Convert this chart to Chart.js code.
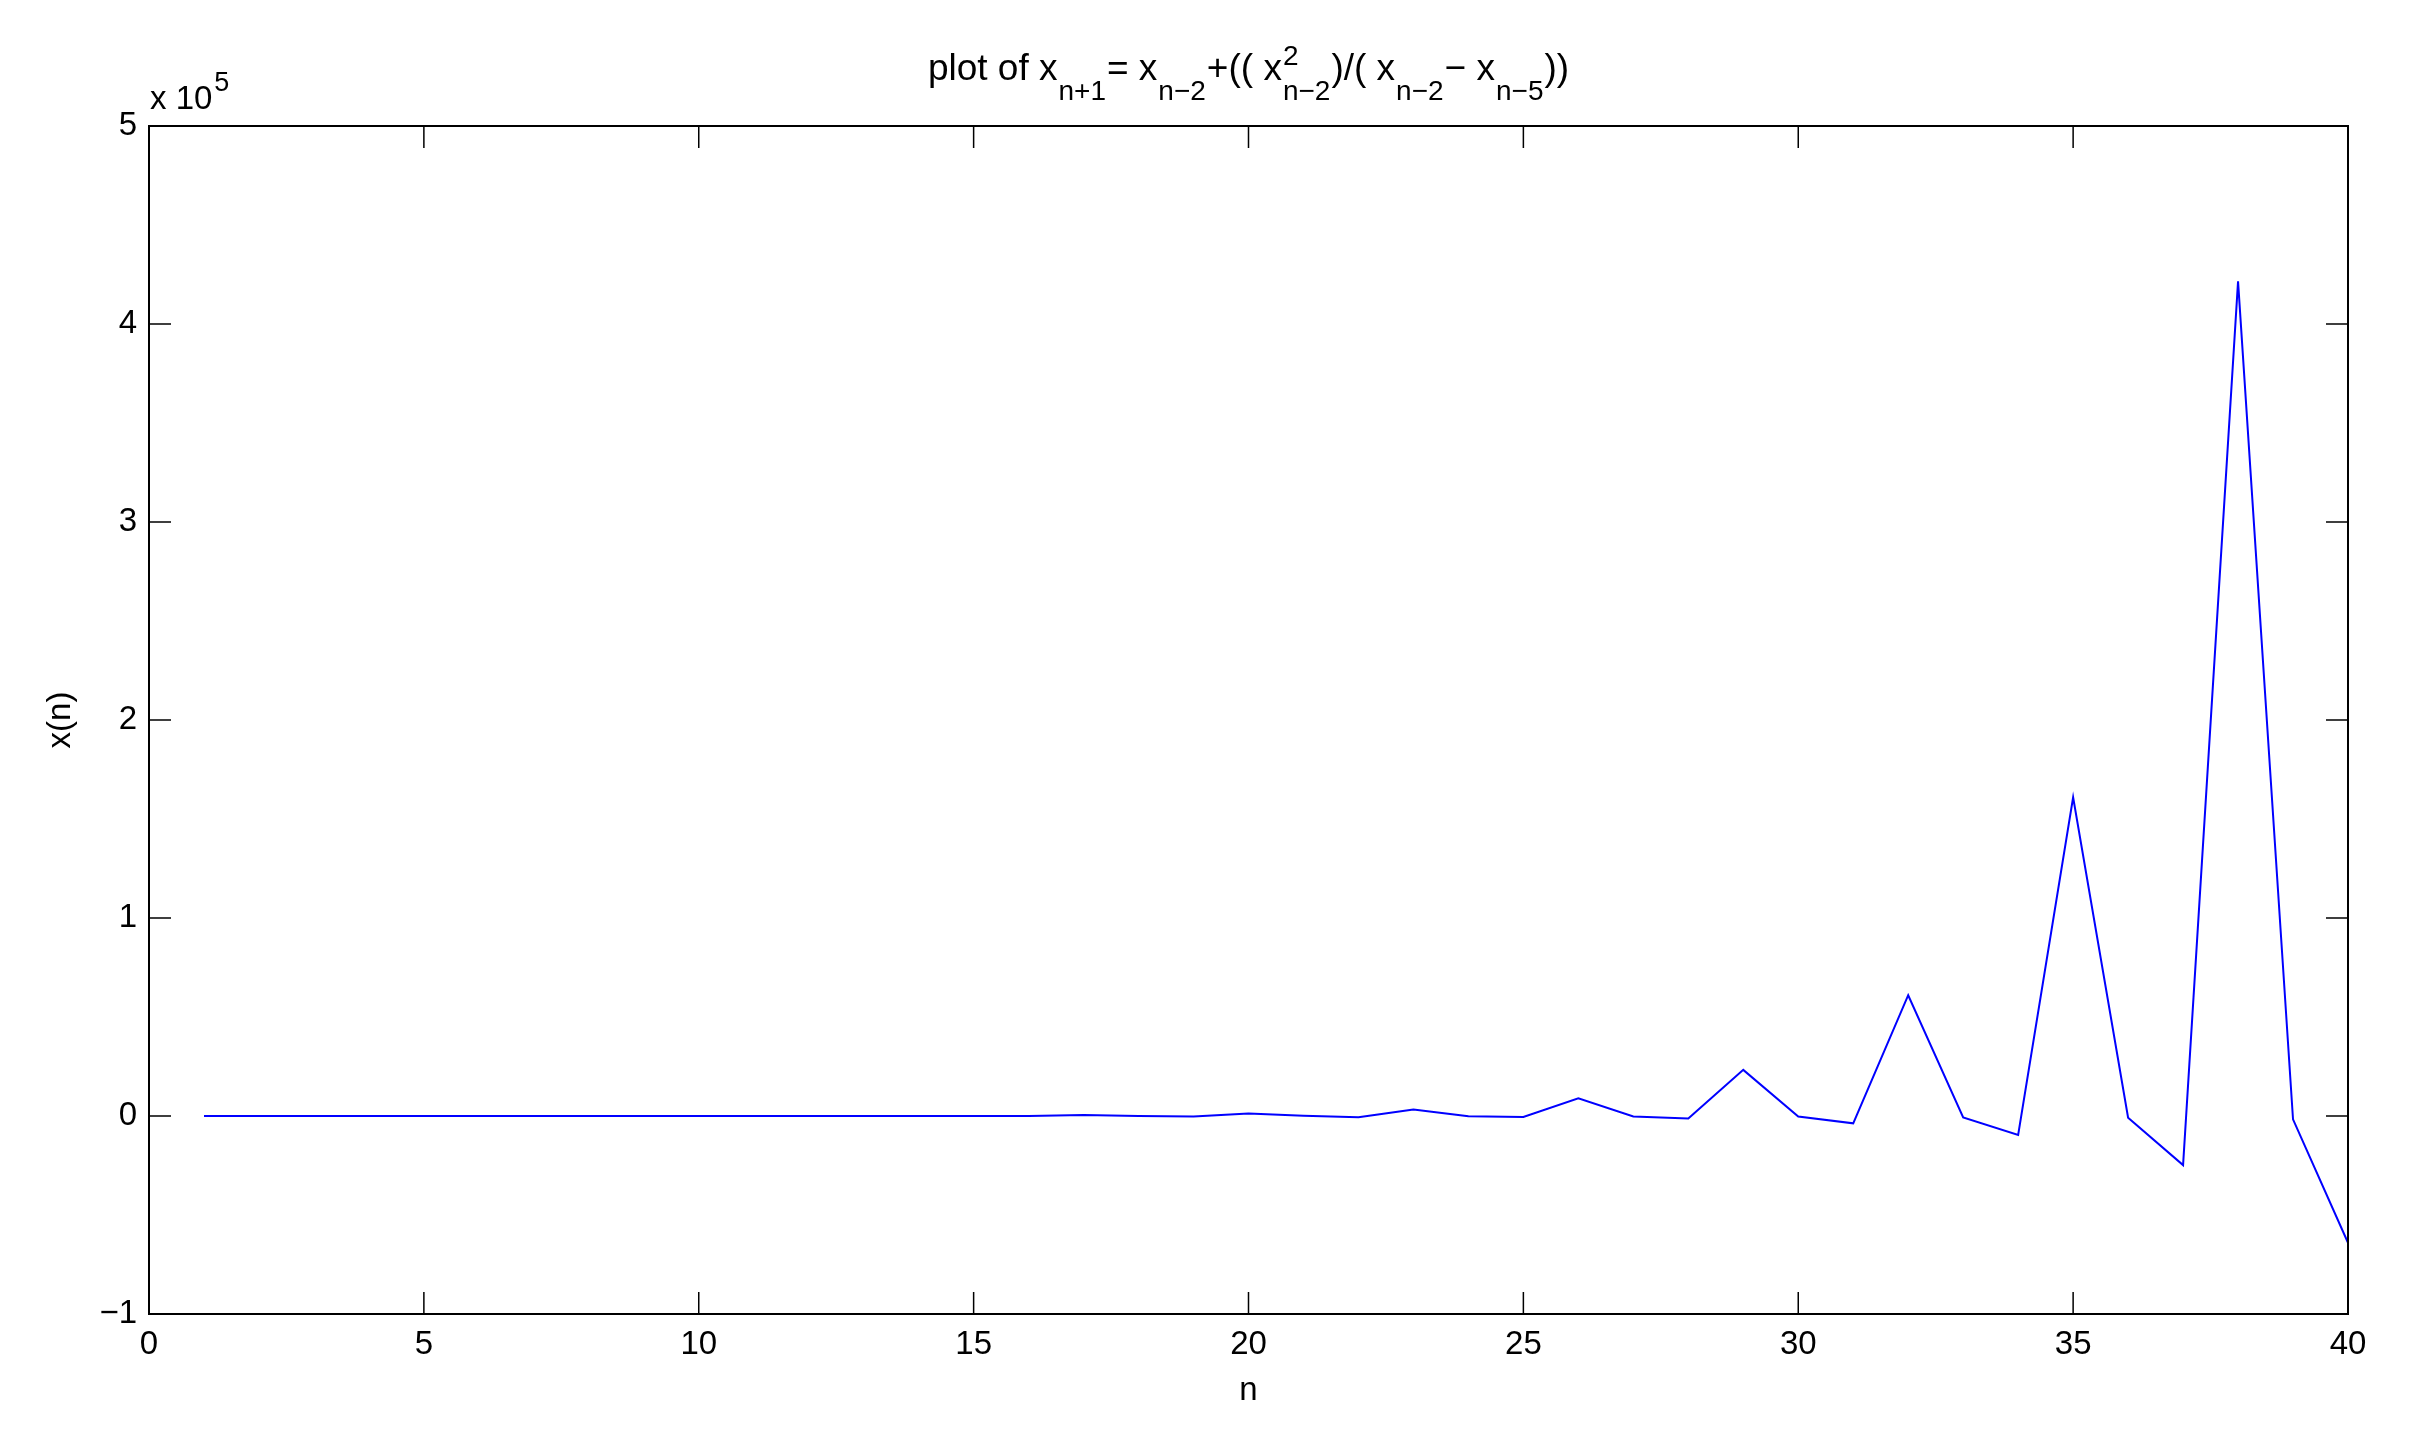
<!DOCTYPE html>
<html>
<head>
<meta charset="utf-8">
<script src="https://cdn.jsdelivr.net/npm/chart.js@4.4.1/dist/chart.umd.min.js"></script>
<style>
  body { margin: 0; background: #fff; }
  canvas { display: block; }
</style>
</head>
<body>
<canvas id="myChart" width="2409" height="1441"></canvas>
<script>
// data block
const nValues = [1, 2, 3, 4, 5, 6, 7, 8, 9, 10,
                 11, 12, 13, 14, 15, 16, 17, 18, 19, 20,
                 21, 22, 23, 24, 25, 26, 27, 28, 29, 30,
                 31, 32, 33, 34, 35, 36, 37, 38, 39, 40];
const xValues = [1, 2, 3, 5, -2, 4, 8, -5, 6, 15,
                 -12, 10, 35, -30, 20, -60, 500, 40, -200, 1200,
                 100, -600, 3300, -150, -500, 8900, -250, -1300, 23300, -300,
                 -3700, 61000, -700, -9600, 161000, -900, -24800, 421500, -1700, -64000];
const xTicks = [0, 5, 10, 15, 20, 25, 30, 35, 40];
const yTicks = [-1, 0, 1, 2, 3, 4, 5]; // in units of 10^5
const yExponent = 5;

const fontFamily = '"Liberation Sans", Arial, Helvetica, sans-serif';
const labelSize = 33;
Chart.defaults.font.family = fontFamily;
Chart.defaults.color = '#000';

// title pieces: main text, subscripts, superscripts
const titleParts = [
  { t: 'plot of x' }, { sub: 'n+1' }, { t: '= x' }, { sub: 'n\u22122' },
  { t: '+(( x' }, { sup: '2', sub: 'n\u22122' }, { t: ')/( x' }, { sub: 'n\u22122' },
  { t: '\u2212 x' }, { sub: 'n\u22125' }, { t: '))' }
];

// frame + inward ticks + exponent + title
const matlabFrame = {
  id: 'matlabFrame',
  afterDatasetsDraw(chart) {
    const {ctx, chartArea: {left, right, top, bottom}, scales: {x, y}} = chart;
    ctx.save();
    ctx.strokeStyle = '#000';
    ctx.lineWidth = 1.5;
    const tl = 22;
    x.ticks.forEach(t => {
      const px = x.getPixelForValue(t.value);
      ctx.beginPath();
      ctx.moveTo(px, bottom); ctx.lineTo(px, bottom - tl);
      ctx.moveTo(px, top); ctx.lineTo(px, top + tl);
      ctx.stroke();
    });
    y.ticks.forEach(t => {
      const py = y.getPixelForValue(t.value);
      ctx.beginPath();
      ctx.moveTo(left, py); ctx.lineTo(left + tl, py);
      ctx.moveTo(right, py); ctx.lineTo(right - tl, py);
      ctx.stroke();
    });
    ctx.lineWidth = 2;
    ctx.strokeRect(left, top, right - left, bottom - top);

    // x 10^5
    ctx.fillStyle = '#000';
    ctx.textBaseline = 'alphabetic';
    ctx.textAlign = 'left';
    ctx.font = labelSize + 'px ' + fontFamily;
    ctx.fillText('x 10', left + 1, 109);
    const w0 = ctx.measureText('x 10').width;
    ctx.font = '27px ' + fontFamily;
    ctx.fillText(String(yExponent), left + 1 + w0 + 2, 91);

    // title
    const mainFont = '37px ' + fontFamily;
    const smallFont = '28px ' + fontFamily;
    const widths = titleParts.map(p => {
      if (p.t) { ctx.font = mainFont; return ctx.measureText(p.t).width; }
      ctx.font = smallFont;
      return Math.max(p.sub ? ctx.measureText(p.sub).width : 0, p.sup ? ctx.measureText(p.sup).width : 0) + 2;
    });
    const total = widths.reduce((a, b) => a + b, 0);
    let cx = (left + right) / 2 - total / 2;
    titleParts.forEach((p, i) => {
      if (p.t) {
        ctx.font = mainFont;
        ctx.fillText(p.t, cx, 80);
      } else {
        ctx.font = smallFont;
        if (p.sub) ctx.fillText(p.sub, cx + 1, 100);
        if (p.sup) ctx.fillText(p.sup, cx + 1, 65);
      }
      cx += widths[i];
    });
    ctx.restore();
  }
};

const data = {
  datasets: [{
    label: 'x(n)',
    data: nValues.map((n, i) => ({ x: n, y: xValues[i] })),
    borderColor: '#0000ff',
    borderWidth: 2,
    pointRadius: 0,
    tension: 0,
    fill: false
  }]
};

const config = {
  type: 'line',
  data,
  options: {
    responsive: false,
    animation: false,
    layout: { padding: { left: 0, right: 61, top: 126, bottom: 0 } },
    plugins: {
      legend: { display: false },
      tooltip: { enabled: false },
      title: { display: false }
    },
    scales: {
      x: {
        type: 'linear',
        min: 0,
        max: 40,
        afterBuildTicks(scale) { scale.ticks = xTicks.map(v => ({ value: v })); },
        afterFit(scale) { scale.height = 127; },
        grid: { drawOnChartArea: false, drawTicks: false },
        border: { display: false },
        ticks: { padding: 11, font: { size: labelSize }, color: '#000' },
        title: { display: true, text: 'n', font: { size: labelSize }, color: '#000', padding: { top: 0, bottom: 30 } }
      },
      y: {
        type: 'linear',
        min: yTicks[0] * Math.pow(10, yExponent),
        max: yTicks[yTicks.length - 1] * Math.pow(10, yExponent),
        afterBuildTicks(scale) { scale.ticks = yTicks.map(v => ({ value: v * Math.pow(10, yExponent) })); },
        afterFit(scale) { scale.width = 149; },
        grid: { drawOnChartArea: false, drawTicks: false },
        border: { display: false },
        ticks: {
          padding: 12,
          font: { size: labelSize },
          color: '#000',
          callback: v => {
            const m = Math.round(v / Math.pow(10, yExponent));
            return m < 0 ? '\u2212' + Math.abs(m) : String(m);
          }
        },
        title: { display: true, text: 'x(n)', font: { size: labelSize }, color: '#000', padding: { top: 41, bottom: 0 } }
      }
    }
  },
  plugins: [matlabFrame]
};

const myChart = new Chart(document.getElementById('myChart'), config);
</script>
</body>
</html>
